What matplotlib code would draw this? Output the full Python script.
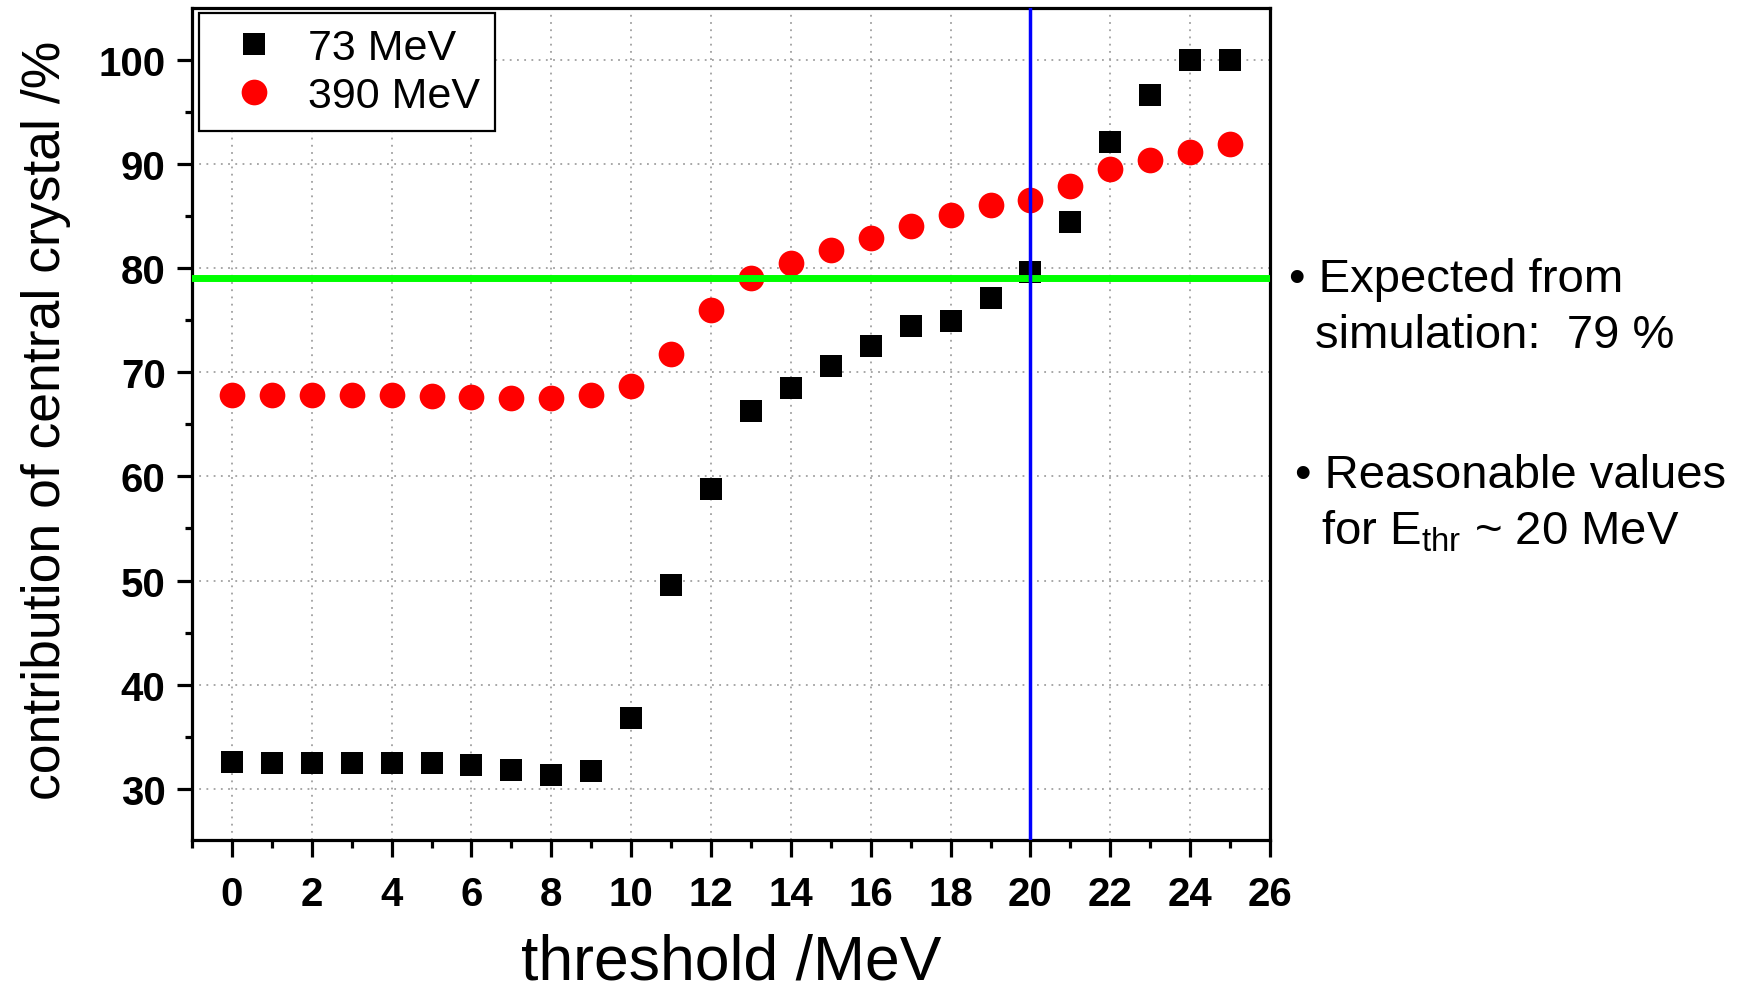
import numpy as np
import matplotlib
matplotlib.use('Agg')
from matplotlib import pyplot as plt
from matplotlib.ticker import MultipleLocator

plt.rcParams['font.family'] = ['Liberation Sans', 'DejaVu Sans']
plt.rcParams['mathtext.fontset'] = 'custom'
plt.rcParams['mathtext.rm'] = 'Liberation Sans'

# data
threshold = np.arange(0, 26)
contrib_73 = [32.6, 32.5, 32.5, 32.5, 32.5, 32.5, 32.3, 31.8, 31.3, 31.7,
              36.8, 49.6, 58.8, 66.3, 68.5, 70.6, 72.5, 74.4, 74.9, 77.1,
              79.6, 84.4, 92.1, 96.6, 100.0, 100.0]
contrib_390 = [67.8, 67.8, 67.8, 67.8, 67.8, 67.7, 67.6, 67.5, 67.5, 67.8,
               68.7, 71.7, 76.0, 79.0, 80.5, 81.7, 82.9, 84.0, 85.1, 86.0,
               86.5, 87.9, 89.5, 90.4, 91.1, 91.9]
expected_sim = 79.0
chosen_thr = 20
series_labels = ['73 MeV', '390 MeV']

W, H = 1742, 995
fig = plt.figure(figsize=(W / 100, H / 100), dpi=100)
ax = fig.add_axes([192 / W, 1 - 841 / H, (1270 - 192) / W, (841 - 9) / H])

ax.plot(threshold, contrib_73, linestyle='none', marker='s', ms=16.5,
        mew=0, color='black', label=series_labels[0], zorder=3)
ax.plot(threshold, contrib_390, linestyle='none', marker='o', ms=18.5,
        mew=0, color='#ff0000', label=series_labels[1], zorder=3)
ax.axhline(expected_sim, color='#00ff00', lw=5, zorder=4)
ax.axvline(chosen_thr, color='#0000ff', lw=2.5, zorder=5)

ax.set_xlim(-1, 26)
ax.set_ylim(25.1, 104.95)
ax.xaxis.set_major_locator(MultipleLocator(2))
ax.xaxis.set_minor_locator(MultipleLocator(1))
ax.set_yticks([30, 40, 50, 60, 70, 80, 90, 100])
ax.yaxis.set_minor_locator(MultipleLocator(5))

ax.grid(True, which='major', color='#a0a0a0', linestyle=(0, (1, 3)), lw=1.3, zorder=0)
for s in ax.spines.values():
    s.set_linewidth(2.3)
ax.tick_params(axis='x', which='major', direction='out', length=12, width=2.3,
               pad=13, labelsize=29)
ax.tick_params(axis='x', which='minor', direction='out', length=6, width=2.3)
ax.tick_params(axis='y', which='major', direction='out', length=11, width=2.3,
               pad=8, labelsize=29)
ax.tick_params(axis='y', which='minor', direction='out', length=5, width=2.3)
for lbl in ax.get_xticklabels() + ax.get_yticklabels():
    lbl.set_fontweight('bold')

leg = ax.legend(loc='upper left', bbox_to_anchor=(0.0065, 0.994), borderaxespad=0,
                fontsize=31, borderpad=0.35, labelspacing=0.19, handlelength=1.86,
                handletextpad=0.33, fancybox=False, framealpha=1, edgecolor='black')
leg.get_frame().set_linewidth(1.6)

fig.text(731 / W, 2 / H, 'threshold /MeV', fontsize=45, ha='center', va='bottom')
fig.text(46 / W, 1 - 420 / H, 'contribution of central crystal /%', fontsize=38.5,
         rotation=90, ha='center', va='center')

fig.text(1289 / W, 1 - 292 / H, '\u2022 Expected from', fontsize=34, va='baseline')
fig.text(1315 / W, 1 - 348 / H, 'simulation:  79 %', fontsize=34, va='baseline')
fig.text(1295 / W, 1 - 488 / H, '\u2022 Reasonable values', fontsize=34, va='baseline')
fig.text(1321 / W, 1 - 545 / H, r'for $\mathrm{E_{thr}}$ ~ 20 MeV', fontsize=34, va='baseline')

fig.savefig('out.png', dpi=100, facecolor='white')
